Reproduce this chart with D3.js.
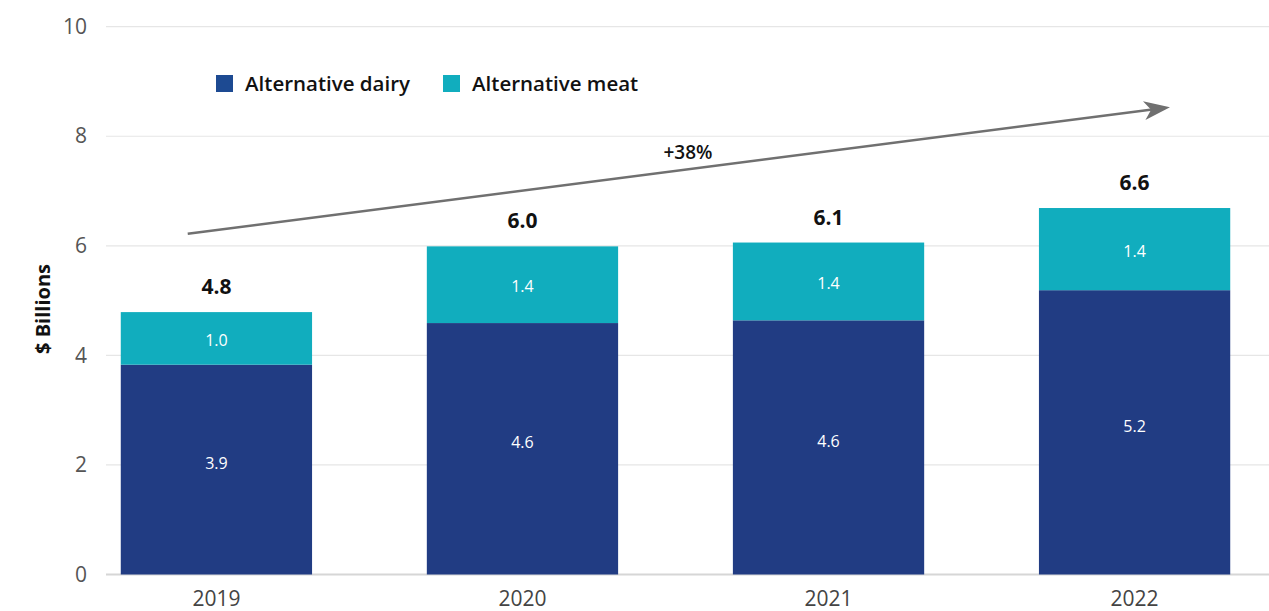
<!DOCTYPE html>
<html>
<head>
<meta charset="utf-8">
<script src="https://cdn.jsdelivr.net/npm/d3@7"></script>
<style>
  body { margin: 0; background: #fff; }
  svg { display: block; font-family: "Open Sans", "Noto Sans", sans-serif; }
</style>
</head>
<body>
<div id="chart"></div>
<script>
var years = ["2019", "2020", "2021", "2022"];
var dairy = [3.83, 4.59, 4.64, 5.19];
var meat = [0.96, 1.40, 1.42, 1.50];
var dairyLabels = ["3.9", "4.6", "4.6", "5.2"];
var meatLabels = ["1.0", "1.4", "1.4", "1.4"];
var totalLabels = ["4.8", "6.0", "6.1", "6.6"];
var yTicks = [0, 2, 4, 6, 8, 10];
var seriesNames = ["Alternative dairy", "Alternative meat"];
var growthLabel = "+38%";
var growthFrom = 6.22, growthTo = 8.53;

var width = 1269, height = 611;
var dairyColor = "#213c83", meatColor = "#11adbe", legendDairy = "#1d4a92";

var svg = d3.select("#chart").append("svg")
  .attr("width", width)
  .attr("height", height);

var y = d3.scaleLinear().domain([0, 10]).range([574.5, 26.7]);
var x = d3.scaleBand().domain(years).range([107, 1244])
  .paddingInner(0.375).paddingOuter(0.045);

// gridlines
svg.append("g").selectAll("line")
  .data(yTicks)
  .enter().append("line")
  .attr("x1", 106).attr("x2", width)
  .attr("y1", function(d){return y(d);})
  .attr("y2", function(d){return y(d);})
  .attr("stroke", function(d){return d == 0 ? "#d6d6d6" : "#e6e6e6";})
  .attr("stroke-width", function(d){return d == 0 ? 2 : 1.2;});

// y axis labels
var yAxis = svg.append("g")
  .attr("transform", "translate(87,0)")
  .call(d3.axisLeft(y).tickValues(yTicks).tickSize(0).tickPadding(0));
yAxis.select(".domain").remove();
yAxis.selectAll("text")
  .attr("fill", "#555")
  .style("font-size", "21px")
  .style("font-family", "Open Sans")
  .style("font-weight", 400);

svg.append("text")
  .attr("transform", "translate(50,309) rotate(-90)")
  .attr("text-anchor", "middle")
  .style("font-size", "20px")
  .style("font-weight", 700)
  .attr("fill", "#111")
  .text("$ Billions");

// x axis
var xAxis = svg.append("g")
  .attr("transform", "translate(0,587)")
  .call(d3.axisBottom(x).tickSize(0).tickPadding(0));
xAxis.select(".domain").remove();
xAxis.selectAll("text")
  .attr("dy", "0.9em")
  .attr("fill", "#444")
  .style("font-size", "21px")
  .style("font-family", "Open Sans")
  .style("font-weight", 400);

// bars
var rows = years.map(function(yr, i){
  return {year: yr, dairy: dairy[i], meat: meat[i],
          dl: dairyLabels[i], ml: meatLabels[i], tl: totalLabels[i]};
});

var g = svg.append("g");
g.selectAll("rect.dairy")
  .data(rows)
  .enter().append("rect")
  .attr("class", "dairy")
  .attr("x", function(d){return x(d.year);})
  .attr("width", x.bandwidth())
  .attr("y", function(d){return y(d.dairy);})
  .attr("height", function(d){return y(0) - y(d.dairy);})
  .attr("fill", dairyColor);

g.selectAll("rect.meat")
  .data(rows)
  .enter().append("rect")
  .attr("class", "meat")
  .attr("x", function(d){return x(d.year);})
  .attr("width", x.bandwidth())
  .attr("y", function(d){return y(d.dairy + d.meat);})
  .attr("height", function(d){return y(d.dairy) - y(d.dairy + d.meat);})
  .attr("fill", meatColor);

g.selectAll("text.dl")
  .data(rows)
  .enter().append("text")
  .attr("x", function(d){return x(d.year) + x.bandwidth() / 2;})
  .attr("y", function(d){return (y(0) + y(d.dairy)) / 2 - 6;})
  .attr("dy", "0.35em")
  .attr("text-anchor", "middle")
  .attr("fill", "#fff")
  .style("font-size", "16px")
  .text(function(d){return d.dl;});

g.selectAll("text.ml")
  .data(rows)
  .enter().append("text")
  .attr("x", function(d){return x(d.year) + x.bandwidth() / 2;})
  .attr("y", function(d){return (y(d.dairy) + y(d.dairy + d.meat)) / 2 + 2;})
  .attr("dy", "0.35em")
  .attr("text-anchor", "middle")
  .attr("fill", "#fff")
  .style("font-size", "16px")
  .text(function(d){return d.ml;});

g.selectAll("text.tl")
  .data(rows)
  .enter().append("text")
  .attr("x", function(d){return x(d.year) + x.bandwidth() / 2;})
  .attr("y", function(d){return y(d.dairy + d.meat) - 18;})
  .attr("text-anchor", "middle")
  .attr("fill", "#111")
  .style("font-size", "21px")
  .style("font-weight", 700)
  .text(function(d){return d.tl;});

// legend
var legend = svg.append("g");
var legendX = [216, 443];
seriesNames.forEach(function(name, i){
  legend.append("rect")
    .attr("x", legendX[i]).attr("y", 75)
    .attr("width", 17).attr("height", 17)
    .attr("fill", i == 0 ? legendDairy : meatColor);
  legend.append("text")
    .attr("x", legendX[i] + 29).attr("y", 90.5)
    .attr("fill", "#111")
    .style("font-size", "20.5px")
    .style("font-weight", 600)
    .text(name);
});

// growth arrow
var ax1 = x("2019") + x.bandwidth() * 0.35;
var ax2 = x("2022") + x.bandwidth() * 0.685;
svg.append("line")
  .attr("x1", ax1).attr("y1", y(growthFrom))
  .attr("x2", ax2 - 10).attr("y2", y(growthTo) + 1.3)
  .attr("stroke", "#707070")
  .attr("stroke-width", 2.5);
svg.append("path")
  .attr("d", function(){
    var tx = ax2, ty = y(growthTo);
    var ang = Math.atan2(y(growthTo) - y(growthFrom), ax2 - ax1);
    var len = 26, half = 9.5;
    var bx = tx - len * Math.cos(ang), by = ty - len * Math.sin(ang);
    var px = -Math.sin(ang) * half, py = Math.cos(ang) * half;
    return "M" + tx + "," + ty + "L" + (bx + px) + "," + (by + py) +
      "L" + (tx - 19 * Math.cos(ang)) + "," + (ty - 19 * Math.sin(ang)) +
      "L" + (bx - px) + "," + (by - py) + "Z";
  })
  .attr("fill", "#707070");

svg.append("text")
  .attr("x", 688).attr("y", 159)
  .attr("text-anchor", "middle")
  .attr("fill", "#111")
  .style("font-size", "19px")
  .style("font-weight", 600)
  .text(growthLabel);
</script>
</body>
</html>
